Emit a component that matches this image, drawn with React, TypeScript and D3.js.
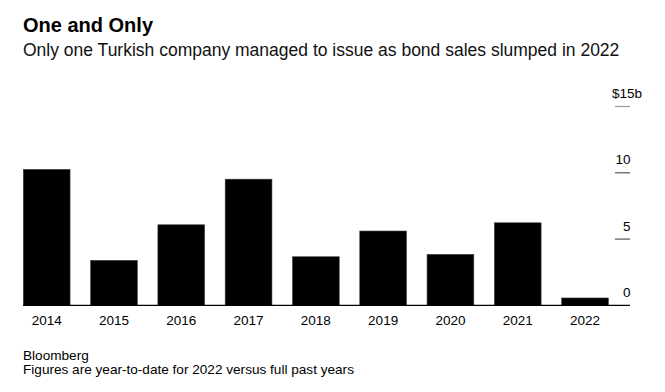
import { useEffect, useRef } from 'react'
import * as d3 from 'd3'

// Turkish corporate bond sales by year, $b (2022 year-to-date)
const YEARS = ['2014', '2015', '2016', '2017', '2018', '2019', '2020', '2021', '2022']
const SALES = [10.26, 3.4, 6.08, 9.52, 3.67, 5.61, 3.85, 6.23, 0.56]
const Y_TICKS = [0, 5, 10, 15]

const W = 665, H = 392
const FONT = '"Liberation Sans", Arial, Helvetica, sans-serif'

export default function App() {
  const ref = useRef<SVGSVGElement | null>(null)

  useEffect(() => {
    const el = ref.current
    if (!el) return
    const svg = d3.select(el)
    svg.selectAll('*').remove()

    const x = d3.scaleBand<string>().domain(YEARS).range([23.3, 608.4]).paddingInner(0.305).paddingOuter(0)
    const y = d3.scaleLinear().domain([0, 15]).range([305.4, 106.5])

    // titles
    svg.append('text')
      .attr('x', 23).attr('y', 32)
      .attr('font-family', FONT).attr('font-weight', 700).attr('font-size', 20)
      .attr('fill', '#000')
      .text('One and Only')
    svg.append('text')
      .attr('x', 23).attr('y', 56)
      .attr('font-family', FONT).attr('font-size', 17.5)
      .attr('fill', '#111')
      .text('Only one Turkish company managed to issue as bond sales slumped in 2022')

    // y ticks on the right
    const yt = svg.append('g')
    Y_TICKS.filter(t => t > 0).forEach(t => {
      yt.append('line')
        .attr('x1', 615).attr('x2', 630)
        .attr('y1', y(t)).attr('y2', y(t))
        .attr('stroke', t === 15 ? '#999' : '#555').attr('stroke-width', 1.2)
    })
    Y_TICKS.forEach(t => {
      yt.append('text')
        .attr('x', t === 15 ? 642 : 630.5).attr('y', y(t) - 8.5)
        .attr('text-anchor', 'end')
        .attr('font-family', FONT).attr('font-size', 13.5)
        .attr('fill', '#000')
        .text(t === 15 ? '$15b' : String(t))
    })

    // bars
    svg.append('g').selectAll('rect')
      .data(SALES)
      .join('rect')
      .attr('x', (_, i) => x(YEARS[i])!)
      .attr('width', x.bandwidth())
      .attr('y', d => y(d))
      .attr('height', d => y(0) - y(d))
      .attr('fill', '#000')
      .attr('stroke', '#444').attr('stroke-width', 0.6)

    // baseline
    svg.append('line')
      .attr('x1', 23).attr('x2', 630)
      .attr('y1', y(0)).attr('y2', y(0))
      .attr('stroke', '#000').attr('stroke-width', 1.3)

    // year labels
    svg.append('g').selectAll('text')
      .data(YEARS)
      .join('text')
      .attr('x', d => x(d)! + x.bandwidth() / 2)
      .attr('y', 324.5)
      .attr('text-anchor', 'middle')
      .attr('font-family', FONT).attr('font-size', 13.5)
      .attr('fill', '#000')
      .text(d => d)

    // footer
    svg.append('text')
      .attr('x', 23).attr('y', 359.5)
      .attr('font-family', FONT).attr('font-size', 13.6)
      .attr('fill', '#000')
      .text('Bloomberg')
    svg.append('text')
      .attr('x', 23).attr('y', 374)
      .attr('font-family', FONT).attr('font-size', 13.6)
      .attr('fill', '#000')
      .text('Figures are year-to-date for 2022 versus full past years')
  }, [])

  return (
    <svg
      ref={ref}
      width={W}
      height={H}
      viewBox={`0 0 ${W} ${H}`}
      style={{ position: 'absolute', left: 0, top: 0, display: 'block', background: '#fff' }}
    />
  )
}
